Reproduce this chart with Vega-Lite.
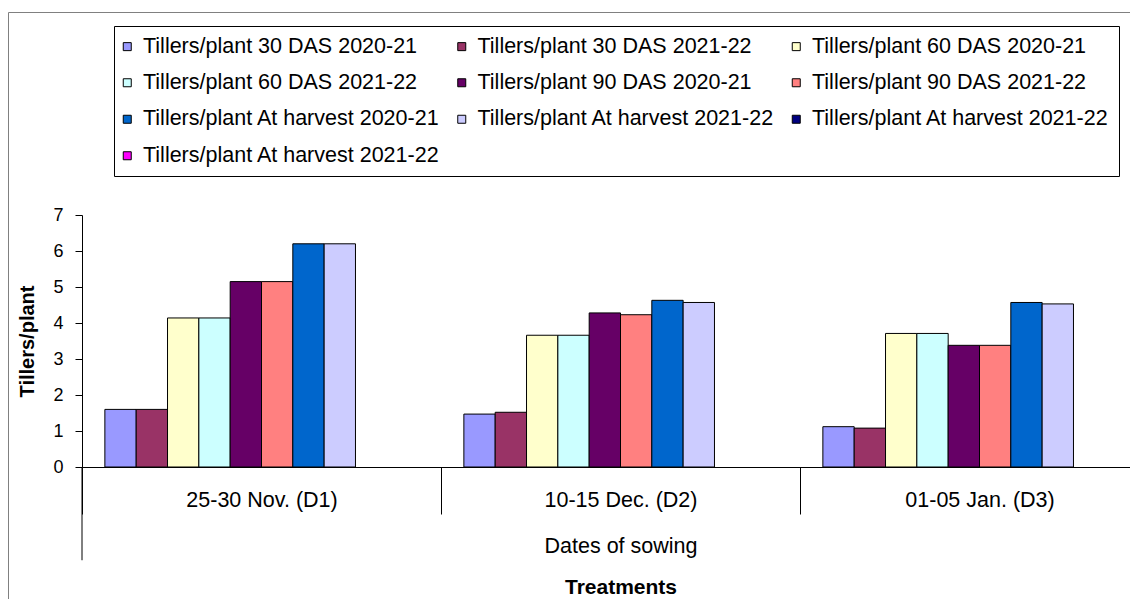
{
  "$schema": "https://vega.github.io/schema/vega-lite/v6.json",
  "width": 1124,
  "height": 589,
  "autosize": {"type": "none"},
  "padding": {"left": 8, "top": 12, "right": 0, "bottom": 0},
  "background": "white",
  "config": {
    "font": "Liberation Sans",
    "view": {"stroke": "#808080", "strokeWidth": 1},
    "axis": {
      "grid": false,
      "domainColor": "#000000",
      "tickColor": "#000000",
      "labelColor": "#000000",
      "titleColor": "#000000",
      "labelFont": "Liberation Sans",
      "titleFont": "Liberation Sans"
    },
    "legend": {
      "orient": "none",
      "legendX": 106,
      "legendY": 14,
      "direction": "horizontal",
      "columns": 3,
      "gridAlign": "all",
      "title": null,
      "strokeColor": "#000000",
      "fillColor": "#ffffff",
      "padding": 9.5,
      "symbolType": "square",
      "symbolSize": 64,
      "symbolOffset": -7,
      "symbolStrokeColor": "#000000",
      "symbolStrokeWidth": 1,
      "symbolOpacity": 1,
      "labelFont": "Liberation Sans",
      "labelFontSize": 21.5,
      "labelColor": "#000000",
      "labelLimit": 600,
      "labelOffset": 5,
      "rowPadding": 13.5,
      "columnPadding": 14.5
    }
  },
  "layer": [
    {
      "data": {
        "values": [
          {"date": "25-30 Nov. (D1)", "series": "Tillers/plant 30 DAS 2020-21", "tillers": 1.60},
          {"date": "25-30 Nov. (D1)", "series": "Tillers/plant 30 DAS 2021-22", "tillers": 1.60},
          {"date": "25-30 Nov. (D1)", "series": "Tillers/plant 60 DAS 2020-21", "tillers": 4.14},
          {"date": "25-30 Nov. (D1)", "series": "Tillers/plant 60 DAS 2021-22", "tillers": 4.14},
          {"date": "25-30 Nov. (D1)", "series": "Tillers/plant 90 DAS 2020-21", "tillers": 5.15},
          {"date": "25-30 Nov. (D1)", "series": "Tillers/plant 90 DAS 2021-22", "tillers": 5.15},
          {"date": "25-30 Nov. (D1)", "series": "Tillers/plant At harvest 2020-21", "tillers": 6.20},
          {"date": "25-30 Nov. (D1)", "series": "Tillers/plant At harvest 2021-22", "tillers": 6.20},
          {"date": "10-15 Dec. (D2)", "series": "Tillers/plant 30 DAS 2020-21", "tillers": 1.47},
          {"date": "10-15 Dec. (D2)", "series": "Tillers/plant 30 DAS 2021-22", "tillers": 1.52},
          {"date": "10-15 Dec. (D2)", "series": "Tillers/plant 60 DAS 2020-21", "tillers": 3.66},
          {"date": "10-15 Dec. (D2)", "series": "Tillers/plant 60 DAS 2021-22", "tillers": 3.66},
          {"date": "10-15 Dec. (D2)", "series": "Tillers/plant 90 DAS 2020-21", "tillers": 4.28},
          {"date": "10-15 Dec. (D2)", "series": "Tillers/plant 90 DAS 2021-22", "tillers": 4.23},
          {"date": "10-15 Dec. (D2)", "series": "Tillers/plant At harvest 2020-21", "tillers": 4.63},
          {"date": "10-15 Dec. (D2)", "series": "Tillers/plant At harvest 2021-22", "tillers": 4.57},
          {"date": "01-05 Jan. (D3)", "series": "Tillers/plant 30 DAS 2020-21", "tillers": 1.12},
          {"date": "01-05 Jan. (D3)", "series": "Tillers/plant 30 DAS 2021-22", "tillers": 1.08},
          {"date": "01-05 Jan. (D3)", "series": "Tillers/plant 60 DAS 2020-21", "tillers": 3.71},
          {"date": "01-05 Jan. (D3)", "series": "Tillers/plant 60 DAS 2021-22", "tillers": 3.71},
          {"date": "01-05 Jan. (D3)", "series": "Tillers/plant 90 DAS 2020-21", "tillers": 3.38},
          {"date": "01-05 Jan. (D3)", "series": "Tillers/plant 90 DAS 2021-22", "tillers": 3.38},
          {"date": "01-05 Jan. (D3)", "series": "Tillers/plant At harvest 2020-21", "tillers": 4.57},
          {"date": "01-05 Jan. (D3)", "series": "Tillers/plant At harvest 2021-22", "tillers": 4.53}
        ]
      },
      "mark": {"type": "bar", "stroke": "#000000", "strokeWidth": 1},
      "encoding": {
        "x": {
          "field": "date",
          "type": "nominal",
          "sort": null,
          "scale": {
            "domain": ["25-30 Nov. (D1)", "10-15 Dec. (D2)", "01-05 Jan. (D3)"],
            "range": [74, 1151],
            "paddingInner": 0,
            "paddingOuter": 0
          },
          "axis": {
            "orient": "bottom",
            "offset": -134,
            "tickBand": "extent",
            "tickSize": 47,
            "tickWidth": 1,
            "domainWidth": 1,
            "labelAngle": 0,
            "labelFontSize": 21.5,
            "labelPadding": -24.5,
            "title": "Dates of sowing",
            "titleFontSize": 21.5,
            "titleFontWeight": "normal",
            "titlePadding": 21
          }
        },
        "xOffset": {
          "field": "series",
          "type": "nominal",
          "scale": {
            "domain": [
              "Tillers/plant 30 DAS 2020-21",
              "Tillers/plant 30 DAS 2021-22",
              "Tillers/plant 60 DAS 2020-21",
              "Tillers/plant 60 DAS 2021-22",
              "Tillers/plant 90 DAS 2020-21",
              "Tillers/plant 90 DAS 2021-22",
              "Tillers/plant At harvest 2020-21",
              "Tillers/plant At harvest 2021-22",
              "Tillers/plant At harvest 2021-22 ",
              "Tillers/plant At harvest 2021-22  "
            ],
            "paddingInner": 0,
            "paddingOuter": 0.73
          }
        },
        "y": {
          "field": "tillers",
          "type": "quantitative",
          "scale": {"domain": [0, 7], "range": [455, 203], "nice": false},
          "axis": {
            "offset": -74,
            "values": [0, 1, 2, 3, 4, 5, 6, 7],
            "format": "d",
            "tickSize": 7,
            "labelFontSize": 18,
            "labelPadding": 12,
            "title": "Tillers/plant",
            "titleFontSize": 20,
            "titleFontWeight": "bold",
            "titlePadding": 15
          }
        },
        "color": {
          "field": "series",
          "type": "nominal",
          "scale": {
            "domain": [
              "Tillers/plant 30 DAS 2020-21",
              "Tillers/plant 30 DAS 2021-22",
              "Tillers/plant 60 DAS 2020-21",
              "Tillers/plant 60 DAS 2021-22",
              "Tillers/plant 90 DAS 2020-21",
              "Tillers/plant 90 DAS 2021-22",
              "Tillers/plant At harvest 2020-21",
              "Tillers/plant At harvest 2021-22",
              "Tillers/plant At harvest 2021-22 ",
              "Tillers/plant At harvest 2021-22  "
            ],
            "range": ["#9999FF", "#993366", "#FFFFCC", "#CCFFFF", "#660066", "#FF8080", "#0066CC", "#CCCCFF", "#000080", "#FF00FF"]
          }
        }
      }
    },
    {
      "data": {"values": [{}]},
      "mark": {"type": "rule", "color": "#000000", "strokeWidth": 1},
      "encoding": {
        "x": {
          "datum": "25-30 Nov. (D1)",
          "bandPosition": 0,
          "axis": {
            "orient": "bottom",
            "offset": -134,
            "domain": false,
            "ticks": false,
            "labels": false,
            "title": "Treatments",
            "titleFontSize": 21,
            "titleFontWeight": "bold",
            "titlePadding": 109
          }
        },
        "y": {"datum": 0, "title": "Tillers/plant"},
        "y2": {"datum": -2.59}
      }
    }
  ],
  "resolve": {"axis": {"x": "independent"}}
}
